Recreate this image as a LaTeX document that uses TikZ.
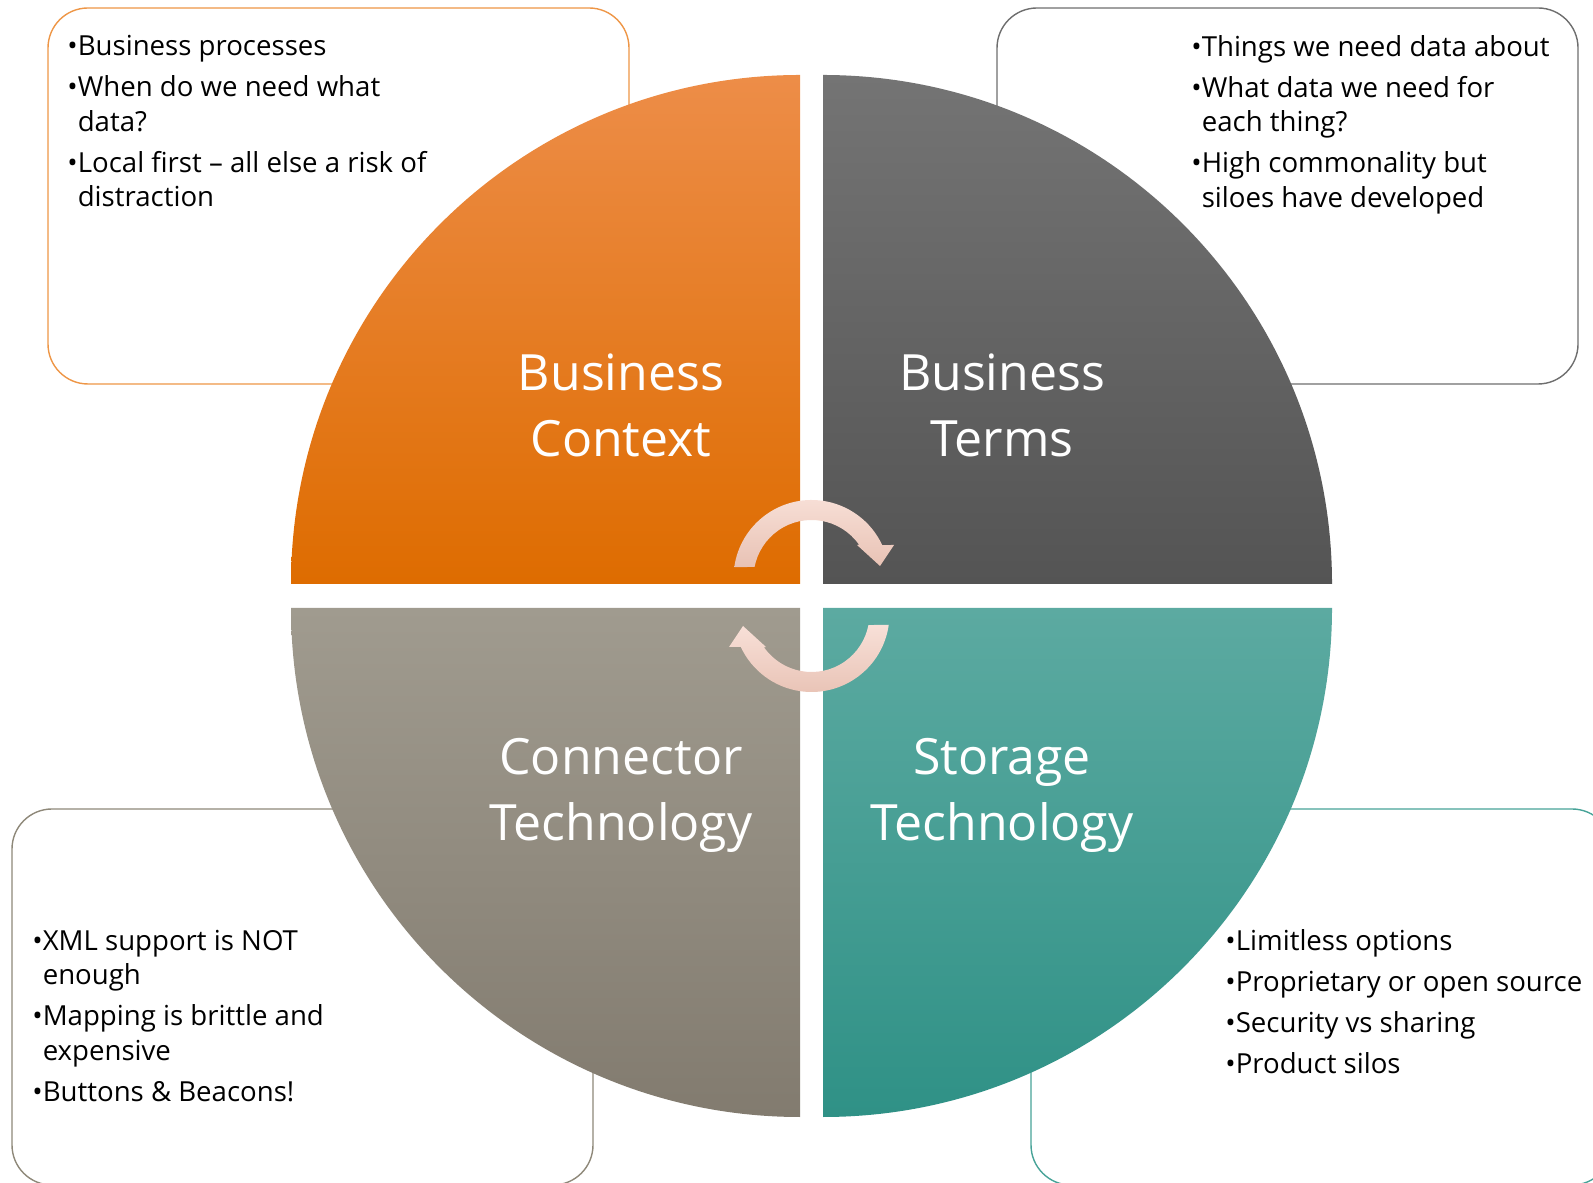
\documentclass[tikz,border=0pt]{standalone}
\usepackage{fontspec}
\setmainfont{Open Sans}
\usetikzlibrary{calc}

\definecolor{ctxtop}{RGB}{237,141,72}
\definecolor{ctxmid}{RGB}{239,127,3}
\definecolor{ctxbot}{RGB}{222,108,0}
\definecolor{trmtop}{RGB}{116,116,116}
\definecolor{trmmid}{RGB}{98,98,98}
\definecolor{trmbot}{RGB}{84,84,84}
\definecolor{contop}{RGB}{160,155,143}
\definecolor{conmid}{RGB}{145,139,127}
\definecolor{conbot}{RGB}{130,123,111}
\definecolor{stotop}{RGB}{92,170,161}
\definecolor{stomid}{RGB}{69,160,150}
\definecolor{stobot}{RGB}{47,145,134}
\definecolor{arrtop}{RGB}{248,224,216}
\definecolor{arrbot}{RGB}{232,194,180}
\definecolor{ctxline}{RGB}{238,150,70}
\definecolor{trmline}{RGB}{110,110,110}
\definecolor{conline}{RGB}{142,136,121}
\definecolor{stoline}{RGB}{71,163,152}

\tikzset{
	notebox/.style={line width=0.7pt, fill=white, rounded corners=20pt},
	note/.style={anchor=north west, inner sep=0pt, align=left, font=\fontsize{13.8}{17.3}\selectfont},
	title/.style={anchor=base, inner sep=0pt, text=white, font=\fontsize{25}{32.5}\selectfont},
	arrowband/.style={top color=arrtop, bottom color=arrbot, draw=none}
}

\begin{document}
\begin{tikzpicture}[x=0.5pt,y=0.5pt]
			%%%%% START %%%%%
			\useasboundingbox (0,0) rectangle (1593,1182);
			
			% note boxes behind the circle
			\draw[notebox, draw=ctxline] (48,798) rectangle (629,1174);
			\draw[notebox, draw=trmline] (997,798) rectangle (1578,1174);
			\draw[notebox, draw=conline] (12,-3) rectangle (593,373);
			\draw[notebox, draw=stoline] (1031,-3) rectangle (1612,373);
			
			% four quarters
			\shade[top color=ctxtop, middle color=ctxmid, bottom color=ctxbot] (800,598) -- (291,598) arc[start angle=180, end angle=90, radius=509] -- cycle;
			\shade[top color=trmtop, middle color=trmmid, bottom color=trmbot] (823,598) -- (823,1107) arc[start angle=90, end angle=0, radius=509] -- cycle;
			\shade[top color=contop, middle color=conmid, bottom color=conbot] (800,574) -- (800,65) arc[start angle=270, end angle=180, radius=509] -- cycle;
			\shade[top color=stotop, middle color=stomid, bottom color=stobot] (823,574) -- (1332,574) arc[start angle=0, end angle=-90, radius=509] -- cycle;
			
			\node[title] (ctx1) at (621,791) {Business};
			\node[title] (ctx2) at (621,725.5) {Context};
			\node[title] (trm1) at (1002,791) {Business};
			\node[title] (trm2) at (1002,725.5) {Terms};
			\node[title] (con1) at (621,407) {Connector};
			\node[title] (con2) at (621,341) {Technology};
			\node[title] (sto1) at (1002,407) {Storage};
			\node[title] (sto2) at (1002,341) {Technology};
			
			% circular arrows
			\coordinate (cu) at (811.5,604);
			\coordinate (cl) at (811.5,568);
			\shade[arrowband] ($(cu)+(172:78)$) arc[start angle=172, end angle=25, radius=78] -- ($(cu)+(82.5,33)$) -- ($(cu)+(68.5,12)$) -- ($(cu)+(45.5,33)$) -- ($(cu)+(35:58)$) arc[start angle=35, end angle=169, radius=58] -- cycle;
			\shade[arrowband] ($(cl)+(-8:78)$) arc[start angle=-8, end angle=-155, radius=78] -- ($(cl)+(-82.5,-33)$) -- ($(cl)+(-68.5,-12)$) -- ($(cl)+(-45.5,-33)$) -- ($(cl)+(-145:58)$) arc[start angle=-145, end angle=-11, radius=58] -- cycle;
			
			% notes
			\node[note] (ctxnote) at (67,1147) {\textbullet Business processes\\[3.2pt]
				\textbullet When do we need what\\ \phantom{\textbullet}data?\\[3.2pt]
				\textbullet Local first – all else a risk of\\ \phantom{\textbullet}distraction};
			\node[note] (trmnote) at (1191,1147) {\textbullet Things we need data about\\[3.2pt]
				\textbullet What data we need for\\ \phantom{\textbullet}each thing?\\[3.2pt]
				\textbullet High commonality but\\ \phantom{\textbullet}siloes have developed};
			\node[note] (connote) at (32,252.5) {\textbullet XML support is NOT\\ \phantom{\textbullet}enough\\[3.2pt]
				\textbullet Mapping is brittle and\\ \phantom{\textbullet}expensive\\[3.2pt]
				\textbullet Buttons \& Beacons!};
			\node[note] (stonote) at (1225,252.5) {\textbullet Limitless options\\[3.2pt]
				\textbullet Proprietary or open source\\[3.2pt]
				\textbullet Security vs sharing\\[3.2pt]
				\textbullet Product silos};
			
			%%%%% END %%%%%
\end{tikzpicture}
\end{document}
